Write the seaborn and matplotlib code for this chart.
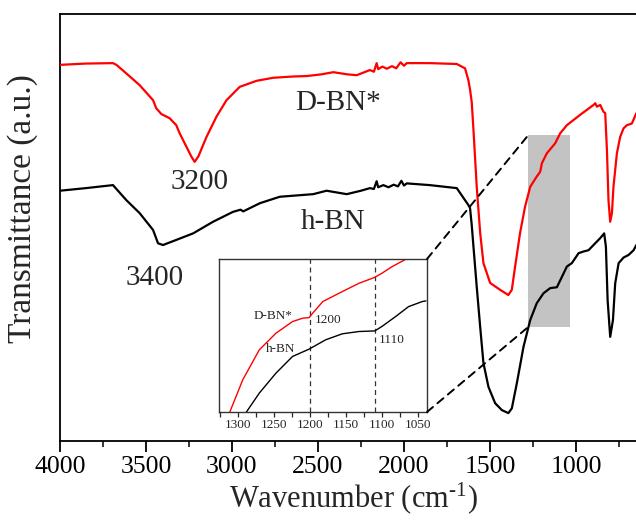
import matplotlib
matplotlib.use("Agg")
import matplotlib.pyplot as plt
import pandas as pd
import seaborn as sns
from matplotlib.patches import ConnectionPatch

# FTIR spectra: wavenumber (cm-1) and transmittance (a.u.)
dbn_wn = [4000, 3850, 3692, 3672, 3614, 3537, 3459, 3440, 3411, 3362, 3324, 3304,
          3265, 3236, 3217, 3195, 3148, 3090, 3032, 2955, 2857, 2761, 2644, 2566,
          2480, 2411, 2330, 2275, 2198, 2175, 2159, 2150, 2125, 2100, 2070, 2045,
          2020, 2000, 1984, 1850, 1693, 1645, 1626, 1616, 1606, 1596, 1577, 1557,
          1538, 1499, 1441, 1393, 1373, 1354, 1325, 1296, 1266, 1228, 1208, 1198,
          1169, 1121, 1092, 1053, 976, 898, 888, 878, 859, 840, 830, 820, 811, 801,
          791, 782, 762, 743, 723, 704, 675, 649]
dbn_t = [88.2, 88.5, 88.6, 88.2, 86.2, 83.5, 80.0, 78.1, 76.8, 75.8, 74.2, 72.3,
         69.2, 66.9, 65.7, 67.0, 71.5, 76.2, 80.0, 83.1, 84.5, 85.2, 85.5, 85.6,
         86.0, 86.5, 86.0, 85.8, 87.0, 86.6, 88.6, 87.2, 87.8, 87.3, 87.9, 87.4,
         88.8, 88.0, 88.6, 88.6, 88.4, 87.4, 84.7, 82.5, 79.5, 73.1, 59.9, 49.2,
         42.2, 37.6, 36.0, 34.8, 36.0, 41.4, 49.2, 55.3, 59.9, 62.3, 63.4, 65.4,
         67.7, 70.0, 72.3, 74.2, 76.6, 78.9, 79.3, 78.5, 78.9, 77.3, 77.0, 68.4,
         56.8, 51.8, 53.8, 59.9, 67.7, 71.5, 73.5, 74.2, 74.6, 77.0]

hbn_wn = [4000, 3850, 3692, 3614, 3537, 3459, 3430, 3401, 3323, 3226, 3110, 2994,
          2950, 2935, 2838, 2722, 2528, 2450, 2333, 2250, 2198, 2175, 2159, 2150,
          2120, 2090, 2060, 2035, 2015, 2000, 1984, 1850, 1693, 1645, 1626, 1616,
          1606, 1596, 1577, 1557, 1538, 1509, 1470, 1431, 1393, 1373, 1344, 1305,
          1266, 1228, 1189, 1150, 1111, 1082, 1053, 1024, 985, 956, 927, 898, 859,
          836, 826, 816, 801, 785, 772, 752, 723, 694, 665, 649]
hbn_t = [59.0, 59.6, 60.3, 56.8, 53.8, 49.9, 46.8, 46.4, 47.6, 49.1, 51.8, 54.1,
         54.6, 54.2, 56.1, 57.6, 58.2, 59.0, 58.2, 59.0, 59.6, 59.4, 61.2, 59.8,
         60.3, 59.8, 60.4, 60.0, 61.3, 60.2, 60.7, 60.3, 59.6, 56.8, 55.7, 55.0,
         51.0, 46.0, 36.7, 27.4, 19.0, 13.5, 9.7, 8.1, 7.4, 8.5, 14.3, 22.8,
         29.0, 32.9, 35.2, 36.4, 36.6, 39.0, 41.4, 42.2, 44.5, 44.9, 45.2, 46.4,
         48.0, 49.1, 46.0, 33.6, 25.1, 29.0, 37.5, 42.2, 43.5, 44.1, 45.2, 46.4]

# Magnified 1300-1050 cm-1 window
dbn_zoom_wn = [1311, 1293, 1270, 1247, 1224, 1210, 1201, 1196, 1182, 1155, 1132,
               1110, 1100, 1086, 1067, 1060]
dbn_zoom_t = [0.0, 21.1, 40.7, 51.5, 59.1, 61.3, 61.7, 64.6, 72.2, 78.7, 84.1,
              88.0, 90.7, 95.0, 99.8, 102.0]
hbn_zoom_wn = [1288, 1270, 1247, 1224, 1201, 1178, 1155, 1132, 1110, 1100, 1081,
               1063, 1044, 1039]
hbn_zoom_t = [0.0, 12.4, 25.4, 36.3, 41.1, 47.2, 51.1, 52.6, 53.0, 55.9, 62.4,
              68.9, 72.2, 72.6]

x_ticks = [4000, 3500, 3000, 2500, 2000, 1500, 1000]
zoom_ticks = [1300, 1250, 1200, 1150, 1100, 1050]
zoom_marks = [1200, 1110]
zoom_span = (1277, 1035)
zoom_band = (27.4, 71.9)

sns.set_theme(style="ticks")
plt.rcParams["font.family"] = ["Liberation Serif", "DejaVu Serif"]
plt.rcParams["mathtext.fontset"] = "custom"
plt.rcParams["mathtext.rm"] = "Liberation Serif"
plt.rcParams["mathtext.it"] = "Liberation Serif:italic"

main = pd.DataFrame({"wn": dbn_wn + hbn_wn,
                     "t": dbn_t + hbn_t,
                     "sample": ["D-BN*"] * len(dbn_wn) + ["h-BN"] * len(hbn_wn)})
zoom = pd.DataFrame({"wn": dbn_zoom_wn + hbn_zoom_wn,
                     "t": dbn_zoom_t + hbn_zoom_t,
                     "sample": ["D-BN*"] * len(dbn_zoom_wn) + ["h-BN"] * len(hbn_zoom_wn)})
palette = {"D-BN*": "#ff0000", "h-BN": "#000000"}

fig = plt.figure(figsize=(6.36, 5.2), dpi=100)
ax = fig.add_axes([60 / 636, 79 / 520, 1 - 60 / 636, 427 / 520])

ax.fill_between(list(zoom_span), zoom_band[0], zoom_band[1],
                color="#c3c3c3", lw=0, zorder=1)
sns.lineplot(data=main, x="wn", y="t", hue="sample", palette=palette,
             estimator=None, lw=1.6, legend=False, ax=ax, zorder=3)

ax.set_xlim(4000, 651)
ax.set_ylim(0.93, 100)
ax.set_xticks(x_ticks)
ax.set_xticks(range(3750, 600, -500), minor=True)
ax.set_yticks([])
ax.tick_params(axis="x", which="major", direction="out", length=8, width=1.3,
               labelsize=18.5, pad=3, colors="black")
ax.tick_params(axis="x", which="minor", direction="out", length=4.5, width=1.3)
for side in ("left", "top", "bottom"):
    ax.spines[side].set_linewidth(1.3)
    ax.spines[side].set_color("black")
ax.spines["right"].set_visible(False)
ax.set_xlabel("Wavenumber (cm$^{\\text{-1}}$)", fontsize=22)
ax.set_ylabel("Transmittance (a.u.)", fontsize=24)
ax.xaxis.set_label_coords(0.509, -0.092)
ax.yaxis.set_label_coords(-0.038, 0.545)

ax.text(2384, 79.4, "D-BN*", fontsize=21, ha="center", va="center")
ax.text(3187, 61.0, "3200", fontsize=21, ha="center", va="center")
ax.text(2413, 51.7, "h-BN", fontsize=21, ha="center", va="center")
ax.text(3450, 38.7, "3400", fontsize=21, ha="center", va="center")

# magnified window
ins = fig.add_axes([219 / 636, 108 / 520, 208 / 636, 153 / 520])
ins.set_facecolor("white")
sns.lineplot(data=zoom, x="wn", y="t", hue="sample", palette=palette,
             estimator=None, lw=1.0, legend=False, ax=ins)
for m in zoom_marks:
    ins.axvline(m, color="#333333", lw=0.9, ls=(0, (4, 3)), zorder=1)
ins.set_xlim(1326, 1037.5)
ins.set_ylim(0, 100)
ins.set_xticks(zoom_ticks)
ins.set_xticks(range(1325, 1030, -50), minor=True)
ins.set_yticks([])
ins.set_xlabel("")
ins.set_ylabel("")
ins.tick_params(axis="x", which="both", direction="out", length=3.5, width=0.9,
                labelsize=9.5, pad=1.5)
for s in ins.spines.values():
    s.set_linewidth(1.0)
    s.set_color("#333333")
ins.text(1250.7, 63.0, "D-BN*", fontsize=9.5, ha="center", va="center")
ins.text(1174.7, 60.2, "1200", fontsize=9.5, ha="center", va="center")
ins.text(1240, 41.3, "h-BN", fontsize=9.5, ha="center", va="center")
ins.text(1087, 47.2, "1110", fontsize=9.5, ha="center", va="center")

for ins_y, band_y in ((1, zoom_band[1]), (0, zoom_band[0])):
    con = ConnectionPatch(xyA=(1, ins_y), coordsA=ins.transAxes,
                          xyB=(zoom_span[0], band_y), coordsB=ax.transData,
                          color="black", lw=1.4, ls=(0, (4, 3)), zorder=2)
    fig.add_artist(con)

fig.savefig("out.png", dpi=100)
